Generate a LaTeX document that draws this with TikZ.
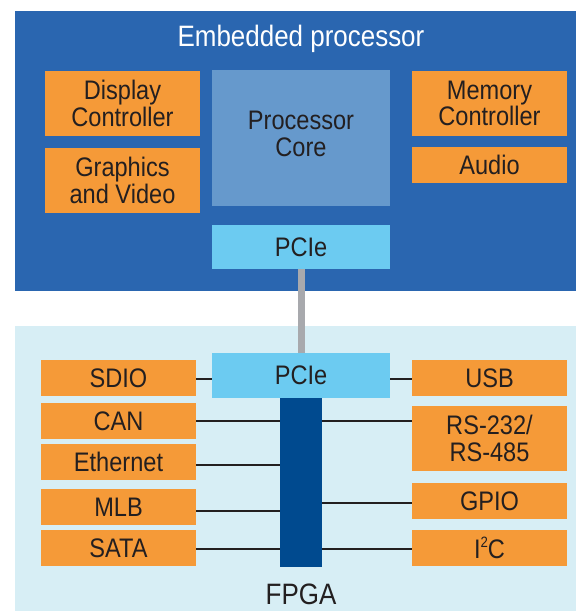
\documentclass[tikz,border=0pt]{standalone}
\usepackage{fontspec}
\setmainfont[FakeStretch=0.88]{Liberation Sans}
\definecolor{embblue}{HTML}{2A66B0}
\definecolor{orangebox}{HTML}{F59A38}
\definecolor{corebox}{HTML}{6699CC}
\definecolor{pciebox}{HTML}{6CCBF1}
\definecolor{fpgabar}{HTML}{004A8F}
\definecolor{lightbg}{HTML}{D7EEF5}
\definecolor{linkgray}{HTML}{A8A9AD}
\definecolor{txt}{HTML}{231F20}
\tikzset{
  blk/.style={rectangle, inner sep=0pt, outer sep=0pt, text=txt, align=center,
    font=\fontsize{26.8}{26.5}\selectfont},
  orangeblk/.style={blk, fill=orangebox, minimum width=155pt},
  wire/.style={draw=txt, line width=2pt},
  bigtext/.style={inner sep=0pt, anchor=base, font=\fontsize{29.5}{30}\selectfont}
}
\begin{document}
\begin{tikzpicture}[x=1pt,y=-1pt]
\useasboundingbox (0,0) rectangle (576,611);
% top region
\node[rectangle, fill=embblue, inner sep=0pt, minimum width=561pt, minimum height=280pt] (emb) at (295.5,151) {};
\node[bigtext, text=white] (title) at (301,46.5) {Embedded processor};
\node[orangeblk, minimum height=65pt] (disp) at (122.5,103.5) {Display\\Controller};
\node[orangeblk, minimum height=65pt] (gfx) at (122.5,180.5) {Graphics\\and Video};
\node[blk, fill=corebox, minimum width=178pt, minimum height=136pt] (core) at (301,138) {};
\node[blk] (coretext) at (301,134) {Processor\\Core};
\node[blk, fill=pciebox, minimum width=178pt, minimum height=44pt] (pciet) at (301,247) {PCIe};
\node[orangeblk, minimum height=65pt] (mem) at (489.5,103.5) {Memory\\Controller};
\node[orangeblk, minimum height=36pt] (audio) at (489.5,165) {Audio};
% bottom region
\node[rectangle, fill=lightbg, inner sep=0pt, minimum width=561pt, minimum height=285pt] (fpgaarea) at (295.5,468.5) {};
\node[blk, fill=pciebox, minimum width=178pt, minimum height=45pt] (pcieb) at (301,375.5) {PCIe};
\node[rectangle, fill=fpgabar, inner sep=0pt, minimum width=42pt, minimum height=169pt] (fpga) at (301,482.5) {};
\node[bigtext, text=txt] (fpgalabel) at (301,604) {FPGA};
\draw[linkgray, line width=7pt] (pciet.south) -- (pcieb.north);
% left boxes
\node[orangeblk, minimum height=36pt] (sdio) at (118.5,378) {SDIO};
\node[orangeblk, minimum height=36pt] (can) at (118.5,421) {CAN};
\node[orangeblk, minimum height=36pt] (eth) at (118.5,462) {Ethernet};
\node[orangeblk, minimum height=36pt] (mlb) at (118.5,507) {MLB};
\node[orangeblk, minimum height=36pt] (sata) at (118.5,548) {SATA};
% right boxes
\node[orangeblk, minimum height=36pt] (usb) at (489.5,378) {USB};
\node[orangeblk, minimum height=65pt] (rs) at (489.5,438.5) {RS-232/\\RS-485};
\node[orangeblk, minimum height=36pt] (gpio) at (489.5,501) {GPIO};
\node[orangeblk, minimum height=36pt] (i2c) at (489.5,548) {I\raisebox{0.42em}{\fontsize{15}{15}\selectfont 2}C};
% connectors
\draw[wire] ([yshift=-1pt]sdio.east) -- ([yshift=-1pt]sdio.east -| pcieb.west);
\draw[wire] ([yshift=-1pt]sdio.east -| pcieb.east) -- ([yshift=-1pt]usb.west);
\draw[wire] (can.east) -- (can.east -| fpga.west);
\draw[wire] (fpga.east |- can.east) -- (can.east -| rs.west);
\draw[wire] ([yshift=-3pt]eth.east) -- ([yshift=-3pt]eth.east -| fpga.west);
\draw[wire] ([yshift=-3.5pt]mlb.east) -- ([yshift=-3.5pt]mlb.east -| fpga.west);
\draw[wire] (fpga.east |- gpio.west) ++(0,2) -- ([yshift=-2pt]gpio.west);
\draw[wire] ([yshift=-1pt]sata.east) -- ([yshift=-1pt]sata.east -| fpga.west);
\draw[wire] ([yshift=-1pt]fpga.east |- i2c.west) -- ([yshift=-1pt]i2c.west);
\end{tikzpicture}
\end{document}
